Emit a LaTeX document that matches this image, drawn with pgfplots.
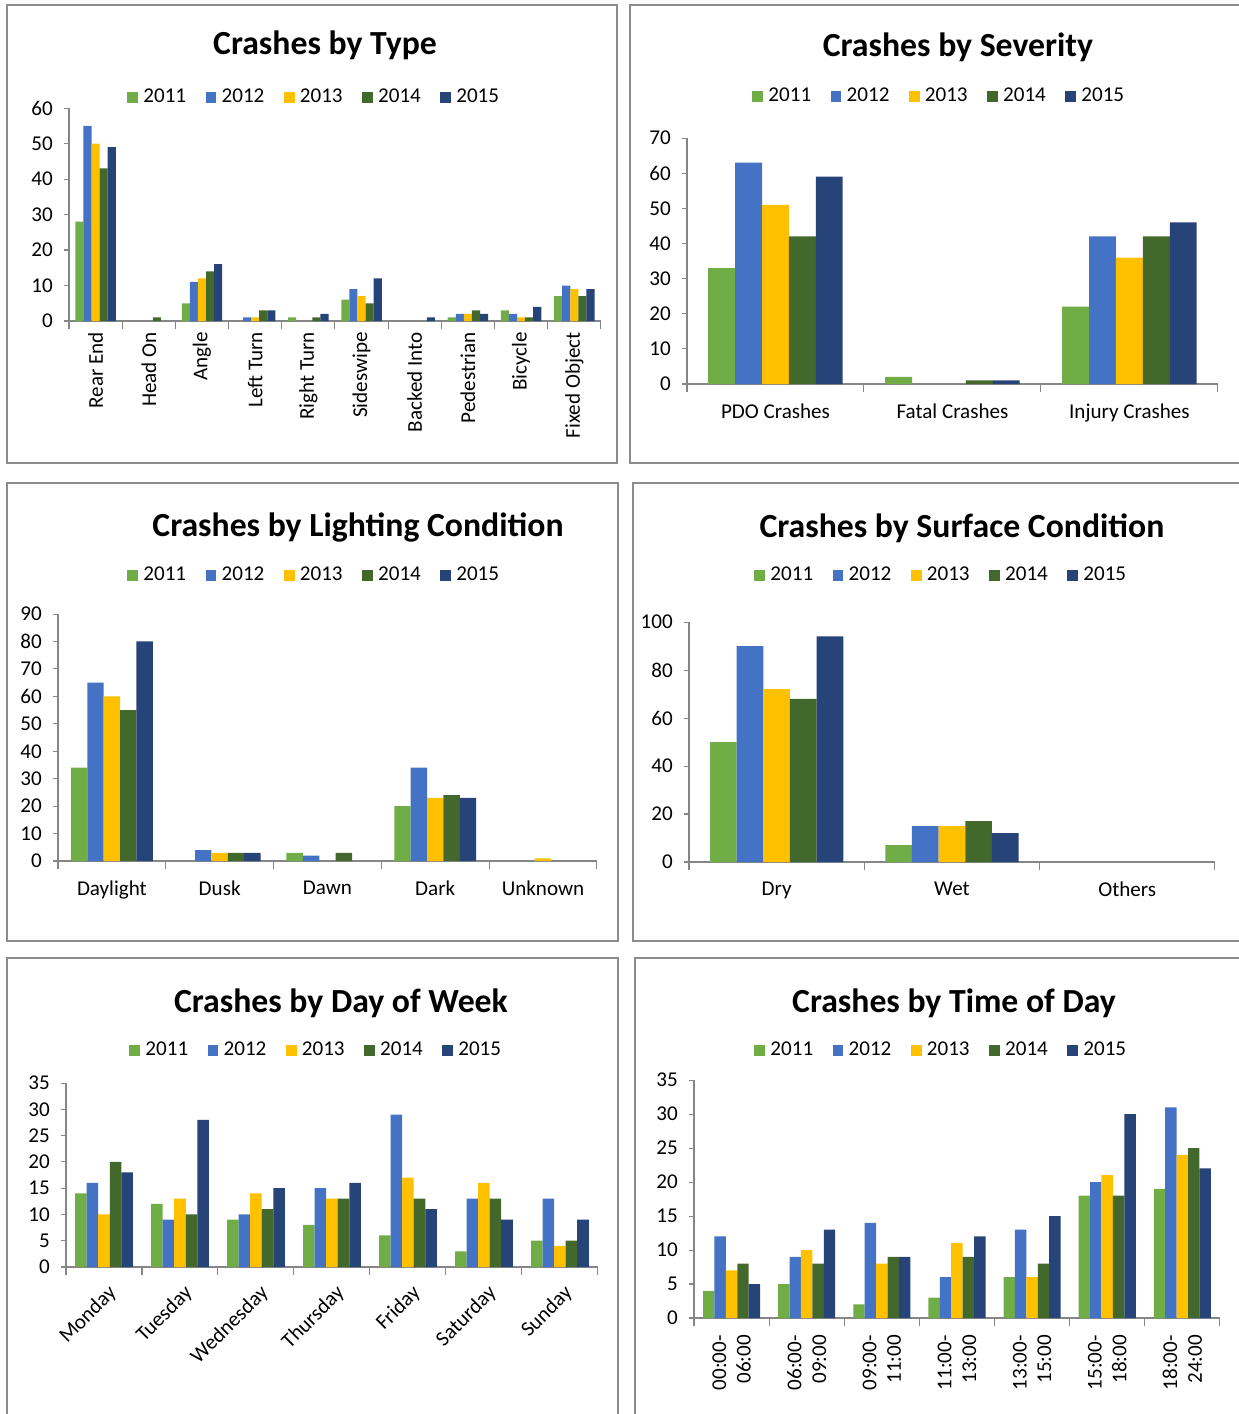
\documentclass[border=0pt]{standalone}
\usepackage{fontspec}
\setmainfont{Carlito}
\usepackage{pgfplots}
\usepackage{pgfplotstable}
\pgfplotsset{compat=1.18}

\definecolor{c11}{HTML}{70AD47}
\definecolor{c12}{HTML}{4472C4}
\definecolor{c13}{HTML}{FFC000}
\definecolor{c14}{HTML}{43682B}
\definecolor{c15}{HTML}{264478}
\definecolor{axgray}{HTML}{868686}
\definecolor{framegray}{HTML}{8C8C8C}

% crashes by type
\pgfplotstableread{
x a b c d e
0 28 55 50 43 49
1 0 0 0 1 0
2 5 11 12 14 16
3 0 1 1 3 3
4 1 0 0 1 2
5 6 9 7 5 12
6 0 0 0 0 1
7 1 2 2 3 2
8 3 2 1 1 4
9 7 10 9 7 9
}\typetab
% severity
\pgfplotstableread{
x a b c d e
0 33 63 51 42 59
1 2 0 0 1 1
2 22 42 36 42 46
}\sevtab
% lighting
\pgfplotstableread{
x a b c d e
0 34 65 60 55 80
1 0 4 3 3 3
2 3 2 0 3 0
3 20 34 23 24 23
4 0 0 1 0 0
}\lighttab
% surface
\pgfplotstableread{
x a b c d e
0 50 90 72 68 94
1 7 15 15 17 12
2 0 0 0 0 0
}\surftab
% day of week
\pgfplotstableread{
x a b c d e
0 14 16 10 20 18
1 12 9 13 10 28
2 9 10 14 11 15
3 8 15 13 13 16
4 6 29 17 13 11
5 3 13 16 13 9
6 5 13 4 5 9
}\daytab
% time of day
\pgfplotstableread{
x a b c d e
0 4 12 7 8 5
1 5 9 10 8 13
2 2 14 8 9 9
3 3 6 11 9 12
4 6 13 6 8 15
5 18 20 21 18 30
6 19 31 24 25 22
}\timetab

\newcommand\fiveplots[1]{%
  \addplot table[x=x,y=a]{#1};
  \addplot table[x=x,y=b]{#1};
  \addplot table[x=x,y=c]{#1};
  \addplot table[x=x,y=d]{#1};
  \addplot table[x=x,y=e]{#1};
  \legend{2011,2012,2013,2014,2015}}

\newcommand\lbl{\fontsize{12}{14}\selectfont}
\newcommand\ttl{\bfseries\fontsize{19.2}{22}\selectfont}

\pgfplotsset{
  crash/.style={
    scale only axis, anchor=south west,
    ybar=0pt, bar width=0.152,
    axis x line*=bottom, axis y line*=left,
    axis line style={draw=axgray, line width=0.6pt},
    tick align=outside,
    major tick length=0.1cm, minor tick length=0.16cm,
    tick style={draw=axgray, line width=0.6pt},
    major x tick style={draw=none},
    ymin=0,
    tick label style={font=\lbl, text=black},
    yticklabel style={xshift=-0.1cm},
    /pgf/number format/assume math mode=true,
    y filter/.expression={y==0 ? nan : y},
    unbounded coords=discard,
    legend style={draw=none, fill=none, anchor=center, font=\lbl,
      legend columns=5,
      /tikz/every odd column/.append style={column sep=1pt},
      /tikz/every even column/.append style={column sep=9pt}},
    legend image code/.code={\fill[##1] (0pt,-3.1pt) rectangle (6.2pt,3.1pt);},
    cycle list={{fill=c11,draw=none},{fill=c12,draw=none},{fill=c13,draw=none},
                {fill=c14,draw=none},{fill=c15,draw=none}},
    clip=false,
  }
}

\begin{document}
\begin{tikzpicture}[x=0.02cm,y=-0.02cm]
\useasboundingbox (0,0) rectangle (1239,1414);
\clip (0,0) rectangle (1239,1414);

% panel frames
\begin{scope}[draw=framegray, line width=0.9pt]
\draw (7,5) rectangle (617,463);
\draw (630,5) rectangle (1250,463);
\draw (7,483) rectangle (618,941);
\draw (633,483) rectangle (1250,941);
\draw (7,958) rectangle (618,1430);
\draw (635,958) rectangle (1250,1430);
\end{scope}

% titles
\node at (325,45) {\ttl Crashes by Type};
\node at (958,47) {\ttl Crashes by Severity};
\node at (358,527) {\ttl Crashes by Lighting Condition};
\node at (962,528) {\ttl Crashes by Surface Condition};
\node at (341,1003) {\ttl Crashes by Day of Week};
\node at (954,1003) {\ttl Crashes by Time of Day};

% axis origins
\coordinate (O1) at (69,321);
\coordinate (O2) at (687,384);
\coordinate (O3) at (58,861);
\coordinate (O4) at (689,862);
\coordinate (O5) at (66,1267);
\coordinate (O6) at (694,1318);

\begin{axis}[crash, at={(O1)}, width=10.64cm, height=4.26cm,
  xmin=-0.5, xmax=9.5, ymax=60, ytick={0,10,...,60},
  xtick={0,...,9}, minor xtick={-0.5,0.5,...,9.5},
  xticklabels={Rear End,Head On,Angle,Left Turn,Right Turn,Sideswipe,Backed Into,Pedestrian,Bicycle,Fixed Object},
  xticklabel style={rotate=90, anchor=east},
  legend style={at={(axis description cs:0.4624,1.0516)}}]
\fiveplots{\typetab}
\end{axis}

\begin{axis}[crash, at={(O2)}, width=10.62cm, height=4.92cm,
  xmin=-0.5, xmax=2.5, ymax=70, ytick={0,10,...,70},
  xtick={0,1,2}, minor xtick={-0.5,0.5,...,2.5},
  xticklabels={PDO Crashes,Fatal Crashes,Injury Crashes},
  xticklabel style={yshift=-0.18cm},
  legend style={at={(axis description cs:0.4765,1.1707)}}]
\fiveplots{\sevtab}
\end{axis}

\begin{axis}[crash, at={(O3)}, width=10.78cm, height=4.94cm,
  xmin=-0.5, xmax=4.5, ymax=90, ytick={0,10,...,90},
  xtick={0,...,4}, minor xtick={-0.5,0.5,...,4.5},
  xticklabels={Daylight,Dusk,Dawn,Dark,Unknown},
  xticklabel style={yshift=-0.18cm},
  legend style={at={(axis description cs:0.4768,1.1579)}}]
\fiveplots{\lighttab}
\end{axis}

\begin{axis}[crash, at={(O4)}, width=10.52cm, height=4.8cm,
  xmin=-0.5, xmax=2.5, ymax=100, ytick={0,20,...,100},
  xtick={0,1,2}, minor xtick={-0.5,0.5,...,2.5},
  xticklabels={Dry,Wet,Others},
  xticklabel style={yshift=-0.18cm},
  legend style={at={(axis description cs:0.481,1.1958)}}]
\fiveplots{\surftab}
\end{axis}

\begin{axis}[crash, at={(O5)}, width=10.64cm, height=3.68cm,
  xmin=-0.5, xmax=6.5, ymax=35, ytick={0,5,...,35},
  xtick={0,...,6}, minor xtick={-0.5,0.5,...,6.5},
  xticklabels={Monday,Tuesday,Wednesday,Thursday,Friday,Saturday,Sunday},
  xticklabel style={rotate=45, anchor=north east, yshift=-0.08cm},
  legend style={at={(axis description cs:0.4718,1.1793)}}]
\fiveplots{\daytab}
\end{axis}

\begin{axis}[crash, at={(O6)}, width=10.52cm, height=4.76cm,
  xmin=-0.5, xmax=6.5, ymax=35, ytick={0,5,...,35},
  xtick={0,...,6}, minor xtick={-0.5,0.5,...,6.5},
  xticklabels={{00:00-\\06:00},{06:00-\\09:00},{09:00-\\11:00},{11:00-\\13:00},{13:00-\\15:00},{15:00-\\18:00},{18:00-\\24:00}},
  xticklabel style={rotate=90, anchor=east, align=right, xshift=-0.12cm},
  legend style={at={(axis description cs:0.4715,1.1261)}}]
\fiveplots{\timetab}
\end{axis}
\end{tikzpicture}
\end{document}
